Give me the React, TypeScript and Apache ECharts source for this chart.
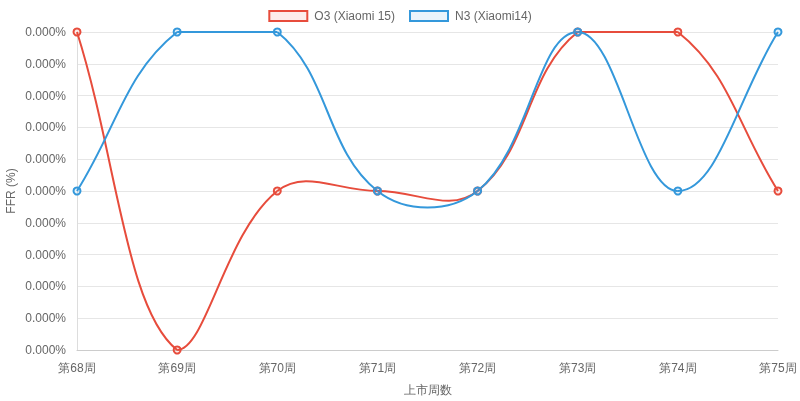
import React, { useEffect, useRef } from "react";
import * as echarts from "echarts";

const categories = ["第68周", "第69周", "第70周", "第71周", "第72周", "第73周", "第74周", "第75周"];
const o3Values = [0.0001, 0, 0.00005, 0.00005, 0.00005, 0.0001, 0.0001, 0.00005];
const n3Values = [0.00005, 0.0001, 0.0001, 0.00005, 0.00005, 0.0001, 0.00005, 0.0001];
const seriesNames = ["O3 (Xiaomi 15)", "N3 (Xiaomi14)"];

const FONT = "'Liberation Sans', Arial, Helvetica, sans-serif";
const RED = "#e74c3c";
const BLUE = "#3498db";

// Chart.js-like cardinal spline (tension 0.4) drawn through the library's scales
function splineRenderer(values: number[], color: string) {
  return (params: any, api: any) => {
    const i = params.dataIndex;
    if (i >= values.length - 1) return null;
    const pts = values.map((v, k) => api.coord([k, v]) as number[]);
    const area = params.coordSys;
    const minX = area.x, maxX = area.x + area.width;
    const minY = area.y, maxY = area.y + area.height;
    const t = 0.4;
    const ctrl = (k: number) => {
      const p1 = pts[k];
      const p0 = pts[k - 1] || p1;
      const p2 = pts[k + 1] || p1;
      const d01 = Math.hypot(p1[0] - p0[0], p1[1] - p0[1]);
      const d12 = Math.hypot(p2[0] - p1[0], p2[1] - p1[1]);
      let s01 = d01 / (d01 + d12);
      let s12 = d12 / (d01 + d12);
      if (!isFinite(s01)) s01 = 0;
      if (!isFinite(s12)) s12 = 0;
      const fa = t * s01, fb = t * s12;
      const clampX = (x: number) => Math.max(minX, Math.min(maxX, x));
      const clampY = (y: number) => Math.max(minY, Math.min(maxY, y));
      return {
        prev: [clampX(p1[0] - fa * (p2[0] - p0[0])), clampY(p1[1] - fa * (p2[1] - p0[1]))],
        next: [clampX(p1[0] + fb * (p2[0] - p0[0])), clampY(p1[1] + fb * (p2[1] - p0[1]))],
      };
    };
    const a = ctrl(i);
    const b = ctrl(i + 1);
    return {
      type: "bezierCurve",
      shape: {
        x1: pts[i][0], y1: pts[i][1],
        x2: pts[i + 1][0], y2: pts[i + 1][1],
        cpx1: a.next[0], cpy1: a.next[1],
        cpx2: b.prev[0], cpy2: b.prev[1],
      },
      style: { stroke: color, lineWidth: 2, fill: "none" },
      silent: true,
    };
  };
}

export default function App() {
  const ref = useRef<HTMLDivElement>(null);
  useEffect(() => {
    if (!ref.current) return;
    const chart = echarts.init(ref.current, undefined, { renderer: "svg" });
    chart.setOption({
      animation: false,
      textStyle: { fontFamily: FONT },
      legend: {
        top: 5,
        left: "center",
        itemWidth: 38,
        itemHeight: 10,
        itemGap: 14,
        textStyle: { color: "#666", fontSize: 12, fontFamily: FONT, padding: [0, 0, 0, 2] },
        data: [
          { name: seriesNames[0], icon: "rect", itemStyle: { color: "rgba(231,76,60,0.1)", borderColor: RED, borderWidth: 2 } },
          { name: seriesNames[1], icon: "rect", itemStyle: { color: "rgba(52,152,219,0.1)", borderColor: BLUE, borderWidth: 2 } },
        ],
      },
      grid: { left: 77, right: 22, top: 32, bottom: 51, containLabel: false, outerBoundsMode: "none" },
      xAxis: {
        type: "category",
        data: categories,
        boundaryGap: false,
        name: "上市周数",
        nameLocation: "middle",
        nameGap: 34,
        nameMoveOverlap: false,
        nameTextStyle: { color: "#666", fontSize: 12, fontFamily: FONT },
        axisLine: { lineStyle: { color: "#ccc", width: 1 } },
        axisTick: { show: false },
        axisLabel: { color: "#666", fontSize: 12, margin: 12, fontFamily: FONT },
        splitLine: { show: false },
      },
      yAxis: {
        type: "value",
        min: 0,
        max: 0.0001,
        interval: 0.00001,
        name: "FFR (%)",
        nameLocation: "middle",
        nameGap: 60,
        nameMoveOverlap: false,
        nameTextStyle: { color: "#666", fontSize: 12, fontFamily: FONT },
        axisLine: { show: true, lineStyle: { color: "#ddd", width: 1 } },
        axisTick: { show: false },
        axisLabel: {
          color: "#666",
          fontSize: 12,
          margin: 11,
          fontFamily: FONT,
          formatter: (v: number) => v.toFixed(3) + "%",
        },
        splitLine: { show: true, lineStyle: { color: "#e6e6e6", width: 1 } },
      },
      series: [
        {
          type: "custom",
          name: "o3-curve",
          renderItem: splineRenderer(o3Values, RED),
          data: o3Values.map((v, k) => [k, v]),
          encode: { x: 0, y: 1 },
          z: 1,
          clip: false,
        },
        {
          type: "custom",
          name: "n3-curve",
          renderItem: splineRenderer(n3Values, BLUE),
          data: n3Values.map((v, k) => [k, v]),
          encode: { x: 0, y: 1 },
          z: 1,
          clip: false,
        },
        {
          name: seriesNames[0],
          type: "line",
          data: o3Values,
          symbol: "circle",
          symbolSize: 7,
          z: 3,
          lineStyle: { width: 0, opacity: 0 },
          itemStyle: { color: "rgba(231,76,60,0.1)", borderColor: RED, borderWidth: 2 },
        },
        {
          name: seriesNames[1],
          type: "line",
          data: n3Values,
          symbol: "circle",
          symbolSize: 7,
          z: 3,
          lineStyle: { width: 0, opacity: 0 },
          itemStyle: { color: "rgba(52,152,219,0.1)", borderColor: BLUE, borderWidth: 2 },
        },
      ],
    });
    return () => chart.dispose();
  }, []);
  return <div ref={ref} style={{ position: "fixed", left: 0, top: 0, width: 800, height: 401 }} />;
}
